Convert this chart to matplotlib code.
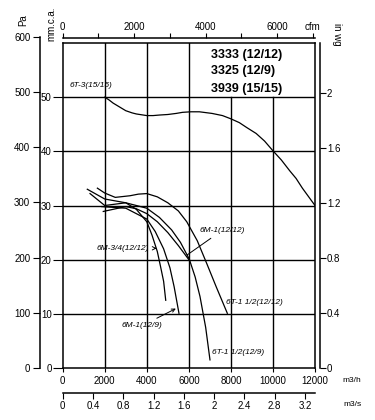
import numpy as np
import matplotlib.pyplot as plt

plt.rcParams['font.family'] = ['Liberation Sans', 'DejaVu Sans']

# fan curves, flow in m3/h, pressure in mm.c.a.
t3_q = [2000, 2200, 2400, 2700, 3000, 3300, 3500, 4000, 4300, 4600, 5000, 5400, 5700, 6100,
        6500, 7100, 7600, 8000, 8400, 8750, 9200, 9600, 10000, 10400, 10800, 11100, 11400, 11700, 12000]
t3_p = [50.0, 49.5, 48.9, 48.2, 47.5, 47.1, 46.9, 46.6, 46.6, 46.7, 46.8, 47.0, 47.2, 47.3,
        47.3, 47.0, 46.6, 46.0, 45.3, 44.4, 43.3, 41.9, 40.1, 38.4, 36.4, 35.0, 33.2, 31.6, 30.0]

t15_12_q = [1650, 2000, 2500, 3200, 3600, 4000, 4500, 5000, 5500, 5900, 6400, 6850, 7300, 7830]
t15_12_p = [33.2, 32.3, 31.5, 31.8, 32.1, 32.2, 31.6, 30.5, 29.0, 27.0, 23.5, 19.3, 15.0, 10.1]

t15_9_q = [1300, 2000, 3000, 4000, 4600, 5180, 5600, 6020, 6300, 6530, 6800, 7005]
t15_9_p = [32.2, 30.0, 30.5, 29.5, 27.8, 25.5, 23.2, 20.1, 16.8, 13.2, 7.5, 1.5]

m1_12_q = [1930, 3000, 3500, 4000, 4500, 5000, 5500, 6000]
m1_12_p = [28.9, 29.8, 29.4, 28.5, 27.0, 25.0, 22.6, 20.0]

m1_9_q = [1855, 3000, 4000, 4400, 4800, 5100, 5300, 5530]
m1_9_p = [29.8, 29.5, 27.5, 25.2, 22.0, 18.5, 15.0, 10.1]

m34_q = [1170, 2000, 3000, 3500, 4000, 4250, 4500, 4650, 4800, 4900]
m34_p = [33.0, 31.2, 30.5, 29.3, 27.0, 24.5, 21.5, 18.8, 16.0, 12.5]

models = ['3333 (12/12)', '3325 (12/9)', '3939 (15/15)']

W, H = 375, 420
x0, x1, y0, y1 = 62.7, 315.0, 43.0, 368.0


def fx(px):
    return px / W


def fy(py):
    return 1 - py / H


fig = plt.figure(figsize=(W / 100, H / 100), dpi=100)
ax = fig.add_axes([fx(x0), fy(y1), (x1 - x0) / W, (y1 - y0) / H])
ax.set_xlim(0, 12000)
ax.set_ylim(0, 60)

# grid (no grid in the title box at top right)
for x in [2000, 4000, 6000]:
    ax.plot([x, x], [0, 60], color='black', lw=1.0, zorder=1)
for x in [8000, 10000]:
    ax.plot([x, x], [0, 50], color='black', lw=1.0, zorder=1)
for y in [10, 20, 30, 40, 50]:
    ax.plot([0, 12000], [y, y], color='black', lw=1.0, zorder=1)

for q, p in [(t3_q, t3_p), (t15_12_q, t15_12_p), (t15_9_q, t15_9_p),
             (m1_12_q, m1_12_p), (m1_9_q, m1_9_p), (m34_q, m34_p)]:
    ax.plot(q, p, color='black', lw=0.9, zorder=3)

for s in ax.spines.values():
    s.set_linewidth(1.1)

ax.set_xticks(range(0, 12001, 2000))
ax.set_yticks(range(0, 51, 10))
ax.tick_params(axis='x', length=3, labelsize=7, pad=3)
ax.tick_params(axis='y', length=7, labelsize=7, pad=1)

# models box
for i, m in enumerate(models):
    ax.text(7060, [57.8, 54.8, 51.5][i], m, fontsize=9, fontweight='bold',
            ha='left', va='center')

# curve labels
lab = dict(fontsize=6, style='italic', family=['Liberation Sans Narrow', 'Liberation Sans'])
ax.text(340, 52.1, '6T-3(15/15)', ha='left', va='center', **lab)
ax.annotate('6M-3/4(12/12)', xy=(4470, 22.1), xytext=(1630, 22.1), ha='left', va='center',
            arrowprops=dict(arrowstyle='->', lw=0.7), **lab)
ax.annotate('6M-1(12/12)', xy=(5820, 20.6), xytext=(6500, 25.4), ha='left', va='center',
            arrowprops=dict(arrowstyle='-', lw=0.7), **lab)
ax.annotate('6M-1(12/9)', xy=(5500, 11.2), xytext=(2800, 7.8), ha='left', va='center',
            arrowprops=dict(arrowstyle='->', lw=0.7), **lab)
ax.text(7770, 12.0, '6T-1 1/2(12/12)', ha='left', va='center', **lab)
ax.text(7100, 2.9, '6T-1 1/2(12/9)', ha='left', va='center', **lab)

# in wg on the right
wg = ax.secondary_yaxis(1 + 5 / (x1 - x0), functions=(lambda y: y / 25.4, lambda y: y * 25.4))
wg.set_yticks([0, 0.4, 0.8, 1.2, 1.6, 2.0])
wg.set_yticklabels(['0', '0.4', '0.8', '1.2', '1.6', '2'])
wg.tick_params(length=4, labelsize=7, pad=1)
wg.spines['right'].set_linewidth(1.1)

# cfm on top
cfm = ax.secondary_xaxis(1 + 5 / (y1 - y0), functions=(lambda x: x / 1.699, lambda x: x * 1.699))
cfm.set_xticks(range(0, 7001, 1000))
cfm.set_xticklabels(['0', '', '2000', '', '4000', '', '6000', 'cfm'])
cfm.tick_params(length=3.5, labelsize=7, pad=0.5)
cfm.spines['top'].set_linewidth(1.1)

# m3/s below
ms = ax.secondary_xaxis(-25 / (y1 - y0), functions=(lambda x: x / 3600, lambda x: x * 3600))
ms.set_xticks(np.arange(0, 3.21, 0.4))
ms.set_xticklabels(['0', '0.4', '0.8', '1.2', '1.6', '2', '2.4', '2.8', '3.2'])
ms.tick_params(length=4, labelsize=7, pad=2)
ms.spines['bottom'].set_linewidth(1.1)

# Pa axis, separate because it reaches above the plot box
pa_top = y1 - 600 / 9.80665 * (y1 - y0) / 60
pa = fig.add_axes([fx(40), fy(y1), 0.0005, (y1 - pa_top) / H])
pa.set_ylim(0, 600)
pa.patch.set_visible(False)
for k in ['top', 'right', 'bottom']:
    pa.spines[k].set_visible(False)
pa.spines['left'].set_linewidth(1.1)
pa.set_xticks([])
pa.set_yticks(range(0, 601, 100))
pa.tick_params(axis='y', length=5, labelsize=7, pad=2)

fig.text(fx(23), fy(20), 'Pa', rotation=90, fontsize=7, ha='center', va='center')
fig.text(fx(51), fy(24), 'mm.c.a.', rotation=90, fontsize=7, ha='center', va='center')
fig.text(fx(337), fy(34), 'in wg', rotation=270, fontsize=7, ha='center', va='center')
fig.text(fx(352), fy(380), 'm3/h', fontsize=6, ha='center', va='center')
fig.text(fx(352), fy(405), 'm3/s', fontsize=6, ha='center', va='center')

fig.savefig('out.png', dpi=100)
